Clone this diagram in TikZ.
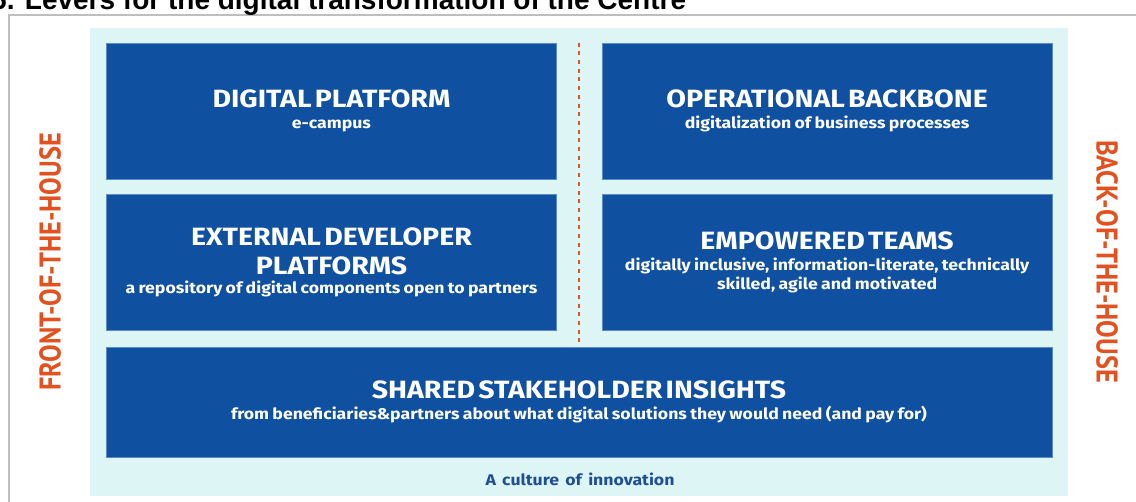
\documentclass[tikz,border=0pt]{standalone}
\usepackage{fontspec}
\setmainfont[FakeStretch=1.14,WordSpace=1.5]{Fira Sans}
\newfontfamily\titlefont{Liberation Sans}
\newfontfamily\housefont[FakeStretch=0.88]{PT Sans}
\usepackage{tikz}
\usetikzlibrary{positioning,calc}
\definecolor{leverblue}{RGB}{16,80,160}
\definecolor{leveredge}{RGB}{90,140,200}
\definecolor{culturebg}{RGB}{222,245,246}
\definecolor{houseorange}{RGB}{226,82,32}
\definecolor{innovblue}{RGB}{30,78,150}
\definecolor{framegray}{RGB}{190,190,190}
\newcommand{\leverhead}{\fontsize{25}{29}\selectfont\bfseries}
\newcommand{\leversub}{\fontsize{15.5}{19.5}\selectfont\bfseries}

\begin{document}
\begin{tikzpicture}[x=1pt, y=1pt, node distance=45pt]
\tikzstyle{lever}=[rectangle,fill=leverblue,draw=leveredge,line width=0.6pt,text=white,minimum width=450pt,minimum height=136pt,text width=440pt,align=center,inner sep=0pt]
\tikzstyle{house}=[text=houseorange,font=\housefont\bfseries\fontsize{30}{30}\selectfont,inner sep=0pt]
\useasboundingbox (0,0) rectangle (1136,502);
% frame and background
\draw[framegray, line width=1.5pt] (9,-5) |- (1145,487);
\fill[culturebg] (90,6) rectangle (1068,474);
\node[anchor=base west, inner sep=0pt, font=\titlefont\bfseries\fontsize{28}{28}\selectfont] (title) at (-9,492) {5. Levers for the digital transformation of the Centre};
% the five levers
\node[lever]    (DP) at (331.5,391)      {{\leverhead DIGITAL PLATFORM\par}\vspace{1pt}{\leversub e-campus\par}};
\node[lever]    (OB)[right=45pt of DP]   {{\leverhead OPERATIONAL BACKBONE\par}\vspace{1pt}{\leversub digitalization of business processes\par}};
\node[lever]    (ED)[below=15pt of DP]   {{\leverhead EXTERNAL DEVELOPER\\PLATFORMS\par}{\leversub a repository of digital components open to partners\par}};
\node[lever]    (ET)[below=15pt of OB]   {{\leverhead EMPOWERED TEAMS\par}\vspace{1pt}{\leversub digitally inclusive, information-literate, technically\\skilled, agile and motivated\par}};
\node[lever, minimum width=946pt, minimum height=110pt, text width=930pt] (SI) at (579,100)
    {{\leverhead SHARED STAKEHOLDER INSIGHTS\par}\vspace{1pt}{\leversub from beneficiaries\&partners about what digital solutions they would need (and pay for)\par}};
% dotted divider
\coordinate (dtop) at ($(DP.north east)!0.5!(OB.north west)$);
\coordinate (dbot) at ($(ED.south east)!0.5!(ET.south west)+(0,-13)$);
\draw[houseorange, line width=2pt, dash pattern=on 4pt off 4.7pt] (dtop) -- (dbot);
\node[text=innovblue, font=\bfseries\fontsize{15.5}{16}\selectfont] (AC) at (580,23) {A culture of innovation};
% sides
\node[house, rotate=90]  (FH) at (50,240)   {FRONT-OF-THE-HOUSE};
\node[house, rotate=-90] (BH) at (1107,240.5) {BACK-OF-THE-HOUSE};
\end{tikzpicture}
\end{document}
